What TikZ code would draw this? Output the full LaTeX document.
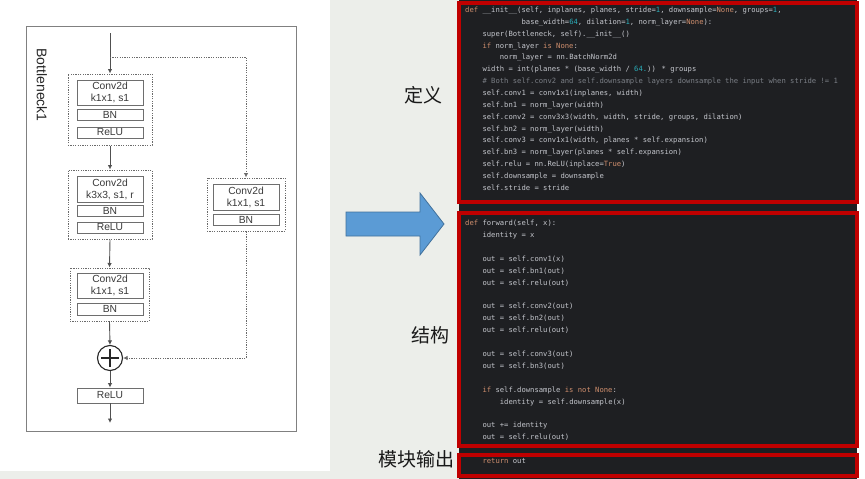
\documentclass[tikz,border=0pt]{standalone}
\usepackage{fontspec}
\setmainfont{Liberation Sans}
\newfontfamily\cjk{Noto Sans CJK SC}
\newfontfamily\codefont{DejaVu Sans Mono}
\usetikzlibrary{arrows.meta}
\definecolor{codebg}{HTML}{1E1F22}
\definecolor{codetxt}{HTML}{C4C6CC}
\definecolor{codekw}{HTML}{CF8E6D}
\definecolor{codenum}{HTML}{2AACB8}
\definecolor{codecmt}{HTML}{7A7E85}
\definecolor{redframe}{HTML}{C00000}
\definecolor{arrowblue}{HTML}{5B9BD5}
\definecolor{arrowedge}{HTML}{41719C}
\definecolor{boxgray}{HTML}{6E6E6E}
\definecolor{boxtxt}{HTML}{3A3A3A}
\definecolor{dotgray}{HTML}{6A6A6A}
\definecolor{arrgray}{HTML}{505050}
\definecolor{photobg}{HTML}{ECEEEA}
\newcommand\ckw[1]{\textcolor{codekw}{#1}}
\newcommand\cnum[1]{\textcolor{codenum}{#1}}
\newcommand\ccmt[1]{\textcolor{codecmt}{#1}}
\tikzset{
  blk/.style={draw=boxgray, line width=0.8pt, fill=white, minimum width=66pt, inner sep=0pt,
    font=\fontsize{10.3}{12}\selectfont, text=boxtxt, align=center},
  grp/.style={draw=dotgray, dash pattern=on 1.2pt off 1.2pt, line width=1pt, inner sep=0pt},
  flow/.style={draw=arrgray, line width=0.9pt, -{Latex[length=4.5pt,width=4.5pt]}},
  shortcut/.style={draw=dotgray, dash pattern=on 1.2pt off 1.2pt, line width=1pt},
  shortarrow/.style={shortcut, -{Latex[length=4.5pt,width=4.5pt]}},
  codeline/.style={anchor=base west, inner sep=0pt, font=\codefont\fontsize{7.2}{8}\selectfont, text=codetxt},
  redbox/.style={draw=redframe, line width=4pt},
  cjklabel/.style={font=\cjk\fontsize{19}{21}\selectfont, text=black!90, inner sep=0pt},
}
\begin{document}
\begin{tikzpicture}[x=1pt,y=-1pt]
\useasboundingbox (0,0) rectangle (865,479);
% backgrounds
\fill[photobg] (0,0) rectangle (865,479);
\fill[white] (0,0) rectangle (330,471);
\fill[white] (857,0) rectangle (865,479);
% ---------------- left diagram ----------------
\draw[draw=gray, line width=1pt] (26,26) rectangle (296,431);
\node[rotate=-90, font=\fontsize{14}{16}\selectfont, text=black!85, inner sep=0pt] (title) at (42,85) {Bottleneck1};
% groups
\node[grp, minimum width=84pt, minimum height=71pt] (g1) at (110,109.5) {};
\node[grp, minimum width=84pt, minimum height=69pt] (g2) at (110,204.5) {};
\node[grp, minimum width=79pt, minimum height=53pt] (g3) at (109.5,294.5) {};
\node[grp, minimum width=78pt, minimum height=53pt] (gd) at (246,204.5) {};
% blocks
\node[blk, minimum height=25pt] (c1) at (110,92.5) {Conv2d\\k1x1, s1};
\node[blk, minimum height=10.5pt] (bn1) at (110,115) {BN};
\node[blk, minimum height=11pt] (relu1) at (110,132.5) {ReLU};
\node[blk, minimum height=26pt] (c2) at (110,189) {Conv2d\\k3x3, s1, r};
\node[blk, minimum height=11pt] (bn2) at (110,210.5) {BN};
\node[blk, minimum height=11pt] (relu2) at (110,227.5) {ReLU};
\node[blk, minimum height=25pt] (c3) at (110,285.5) {Conv2d\\k1x1, s1};
\node[blk, minimum height=12pt] (bn3) at (110,309) {BN};
\node[blk, minimum height=26pt] (cd) at (246,197) {Conv2d\\k1x1, s1};
\node[blk, minimum height=11pt] (bnd) at (246,219.5) {BN};
\node[circle, draw=black!85, line width=1.1pt, minimum size=25pt, inner sep=0pt] (plus) at (110,358) {};
\draw[black!85, line width=1.1pt] ([yshift=9pt]plus.center) -- ([yshift=-9pt]plus.center)
  ([xshift=-9pt]plus.center) -- ([xshift=9pt]plus.center);
\node[blk, minimum height=15pt] (relu4) at (110,395.5) {ReLU};
\coordinate (in) at (110,33);
\coordinate (split) at (110,57);
\coordinate (out) at (110,423);
% connectors
\draw[flow] (in) -- (g1.north);
\draw[flow] (g1.south) -- (g2.north);
\draw[flow] (g2.south) -- (g3.north);
\draw[flow] (g3.south) -- (plus.north);
\draw[flow] (plus.south) -- (relu4.north);
\draw[flow] (relu4.south) -- (out);
\draw[shortarrow] (split) -| (gd.north);
\draw[shortarrow] (gd.south) |- (plus.east);
% ---------------- blue arrow ----------------
\draw[fill=arrowblue, draw=arrowedge, line width=0.8pt]
  (346,212) -- (420,212) -- (420,193) -- (444,224) -- (420,255) -- (420,236) -- (346,236) -- cycle;
% ---------------- labels ----------------
\node[cjklabel] (ldef) at (423.5,95) {定义};
\node[cjklabel] (lstruct) at (430,335) {结构};
\node[cjklabel] (lout) at (416,459) {模块输出};
% ---------------- code panel ----------------
\fill[codebg] (459,0) rectangle (857,479);
\fill[white] (857,203) rectangle (865,212);
% box 1
\node[codeline] (a0) at (465,12.5) {\ckw{def} \_\_init\_\_(self, inplanes, planes, stride=\cnum{1}, downsample=\ckw{None}, groups=\cnum{1},};
\node[codeline] (a1) at (521.4,24.35) {base\_width=\cnum{64}, dilation=\cnum{1}, norm\_layer=\ckw{None}):};
\node[codeline] (a2) at (482.3,36.2) {super(Bottleneck, self).\_\_init\_\_()};
\node[codeline] (a3) at (482.3,48.05) {\ckw{if} norm\_layer \ckw{is None}:};
\node[codeline] (a4) at (499.7,59.9) {norm\_layer = nn.BatchNorm2d};
\node[codeline] (a5) at (482.3,71.75) {width = int(planes * (base\_width / \cnum{64.})) * groups};
\node[codeline] (a6) at (482.3,83.6) {\ccmt{\# Both self.conv2 and self.downsample layers downsample the input when stride != 1}};
\node[codeline] (a7) at (482.3,95.45) {self.conv1 = conv1x1(inplanes, width)};
\node[codeline] (a8) at (482.3,107.3) {self.bn1 = norm\_layer(width)};
\node[codeline] (a9) at (482.3,119.15) {self.conv2 = conv3x3(width, width, stride, groups, dilation)};
\node[codeline] (a10) at (482.3,131) {self.bn2 = norm\_layer(width)};
\node[codeline] (a11) at (482.3,142.85) {self.conv3 = conv1x1(width, planes * self.expansion)};
\node[codeline] (a12) at (482.3,154.7) {self.bn3 = norm\_layer(planes * self.expansion)};
\node[codeline] (a13) at (482.3,166.55) {self.relu = nn.ReLU(inplace=\ckw{True})};
\node[codeline] (a14) at (482.3,178.4) {self.downsample = downsample};
\node[codeline] (a15) at (482.3,190.25) {self.stride = stride};
% box 2
\node[codeline] (b0) at (465,225.5) {\ckw{def} forward(self, x):};
\node[codeline] (b1) at (482.3,237.4) {identity = x};
\node[codeline] (b3) at (482.3,261.2) {out = self.conv1(x)};
\node[codeline] (b4) at (482.3,273.1) {out = self.bn1(out)};
\node[codeline] (b5) at (482.3,285) {out = self.relu(out)};
\node[codeline] (b7) at (482.3,308.8) {out = self.conv2(out)};
\node[codeline] (b8) at (482.3,320.7) {out = self.bn2(out)};
\node[codeline] (b9) at (482.3,332.6) {out = self.relu(out)};
\node[codeline] (b11) at (482.3,356.4) {out = self.conv3(out)};
\node[codeline] (b12) at (482.3,368.3) {out = self.bn3(out)};
\node[codeline] (b14) at (482.3,392.1) {\ckw{if} self.downsample \ckw{is not None}:};
\node[codeline] (b15) at (499.7,404) {identity = self.downsample(x)};
\node[codeline] (b17) at (482.3,427.8) {out += identity};
\node[codeline] (b18) at (482.3,439.7) {out = self.relu(out)};
% box 3
\node[codeline] (r0) at (482.3,463.5) {\ckw{return} out};
% red frames
\draw[redbox] (459,3) rectangle (857,202);
\draw[redbox] (459,213) rectangle (857,446);
\draw[redbox] (459,455) rectangle (857,476);
\end{tikzpicture}
\end{document}
